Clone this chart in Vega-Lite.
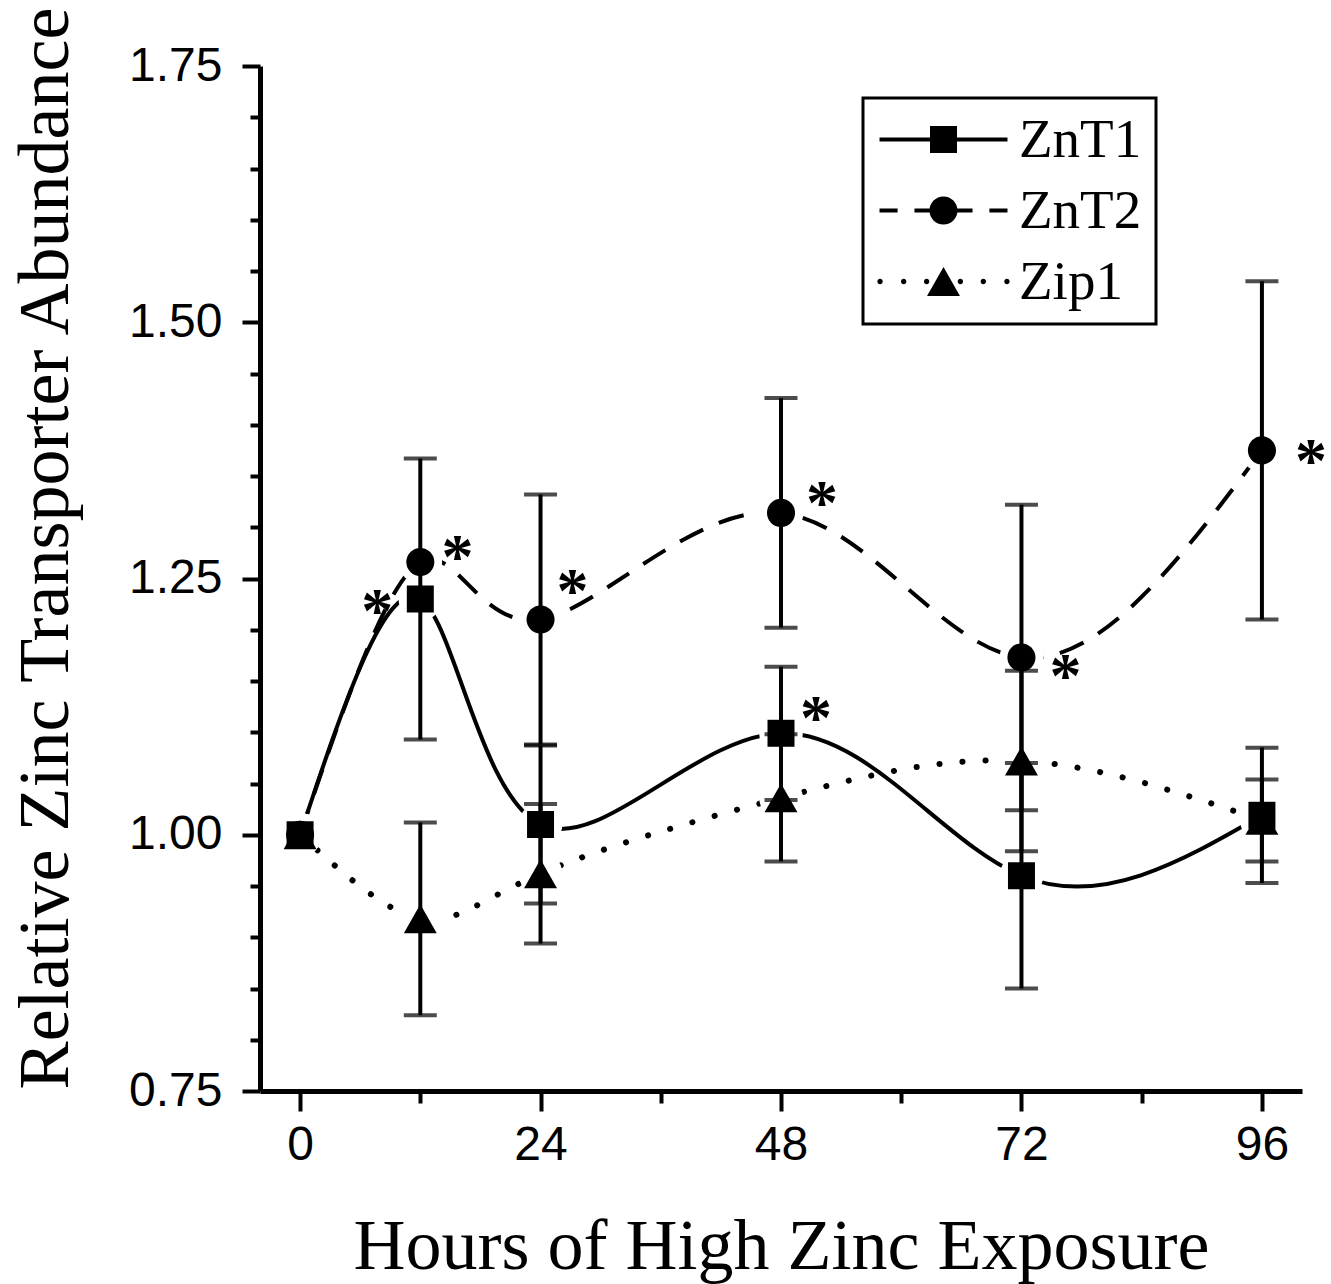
{
  "$schema": "https://vega.github.io/schema/vega-lite/v6.json",
  "width": 1042,
  "height": 1025,
  "autosize": "none",
  "padding": {"left": 260, "top": 66, "right": 29, "bottom": 193},
  "background": "white",
  "config": {
    "view": {"stroke": null},
    "legend": {"strokeColor": "black", "strokeWidth": 3, "padding": 14, "cornerRadius": 0}
  },
  "datasets": {
    "levels": [
      {"series": "ZnT1", "hour": 0, "value": 1.0, "err": 0},
      {"series": "ZnT1", "hour": 12, "value": 1.23, "err": 0.137},
      {"series": "ZnT1", "hour": 24, "value": 1.01, "err": 0.077},
      {"series": "ZnT1", "hour": 48, "value": 1.099, "err": 0.065},
      {"series": "ZnT1", "hour": 72, "value": 0.96, "err": 0.11},
      {"series": "ZnT1", "hour": 96, "value": 1.019, "err": 0.066},
      {"series": "ZnT2", "hour": 0, "value": 1.0, "err": 0},
      {"series": "ZnT2", "hour": 12, "value": 1.266, "err": 0},
      {"series": "ZnT2", "hour": 24, "value": 1.21, "err": 0.122},
      {"series": "ZnT2", "hour": 48, "value": 1.314, "err": 0.112},
      {"series": "ZnT2", "hour": 72, "value": 1.173, "err": 0.149},
      {"series": "ZnT2", "hour": 96, "value": 1.375, "err": 0.165},
      {"series": "Zip1", "hour": 0, "value": 1.0, "err": 0},
      {"series": "Zip1", "hour": 12, "value": 0.918, "err": 0.094},
      {"series": "Zip1", "hour": 24, "value": 0.962, "err": 0.068},
      {"series": "Zip1", "hour": 48, "value": 1.036, "err": 0.062},
      {"series": "Zip1", "hour": 72, "value": 1.072, "err": 0.088},
      {"series": "Zip1", "hour": 96, "value": 1.014, "err": 0.04}
    ],
    "stars": [
      {"series": "ZnT1", "hour": 7.7, "value": 1.227},
      {"series": "ZnT2", "hour": 15.7, "value": 1.28},
      {"series": "ZnT2", "hour": 27.2, "value": 1.247},
      {"series": "ZnT2", "hour": 52.1, "value": 1.332},
      {"series": "ZnT1", "hour": 51.5, "value": 1.123},
      {"series": "ZnT2", "hour": 76.4, "value": 1.164},
      {"series": "ZnT2", "hour": 100.9, "value": 1.373}
    ]
  },
  "data": {"name": "levels"},
  "encoding": {
    "x": {
      "field": "hour",
      "type": "quantitative",
      "scale": {"domain": [-4, 100], "nice": false, "zero": false},
      "axis": {
        "values": [0, 12, 24, 36, 48, 60, 72, 84, 96],
        "labelExpr": "datum.value % 24 === 0 ? datum.label : ''",
        "tickSize": {"condition": {"test": "datum.value % 24 === 0", "value": 20}, "value": 12},
        "tickWidth": 4,
        "tickColor": "black",
        "domainWidth": 5,
        "domainColor": "black",
        "grid": false,
        "labelFont": "Liberation Sans",
        "labelFontSize": 48,
        "labelColor": "black",
        "labelPadding": 10,
        "labelOverlap": false,
        "labelFlush": false,
        "title": "Hours of High Zinc Exposure",
        "titleFont": "Liberation Serif",
        "titleFontSize": 72,
        "titleFontWeight": "normal",
        "titleColor": "black",
        "titleY": 177,
        "titleBaseline": "alphabetic"
      }
    },
    "y": {
      "field": "value",
      "type": "quantitative",
      "scale": {"domain": [0.75, 1.75], "nice": false, "zero": false},
      "axis": {
        "values": [0.75, 0.8, 0.85, 0.9, 0.95, 1.0, 1.05, 1.1, 1.15, 1.2, 1.25, 1.3, 1.35, 1.4, 1.45, 1.5, 1.55, 1.6, 1.65, 1.7, 1.75],
        "labelExpr": "abs(datum.value * 4 - round(datum.value * 4)) < 0.001 ? format(datum.value, '.2f') : ''",
        "tickSize": {"condition": {"test": "abs(datum.value * 4 - round(datum.value * 4)) < 0.001", "value": 18}, "value": 10},
        "tickWidth": 4,
        "tickColor": "black",
        "domainWidth": 5,
        "domainColor": "black",
        "grid": false,
        "labelFont": "Liberation Sans",
        "labelFontSize": 48,
        "labelColor": "black",
        "labelPadding": 20,
        "labelOverlap": false,
        "labelFlush": false,
        "title": "Relative Zinc Transporter Abundance",
        "titleFont": "Liberation Serif",
        "titleFontSize": 72,
        "titleFontWeight": "normal",
        "titleColor": "black",
        "titleAngle": 270,
        "titleX": -193,
        "titleY": 482,
        "titleBaseline": "alphabetic"
      }
    }
  },
  "resolve": {"scale": {"shape": "independent"}},
  "layer": [
    {
      "transform": [{"filter": "datum.series === 'ZnT1'"}],
      "mark": {"type": "line", "interpolate": "natural", "strokeWidth": 4, "strokeCap": "round", "color": "black"}
    },
    {
      "transform": [{"filter": "datum.series === 'ZnT2'"}],
      "mark": {"type": "line", "interpolate": "natural", "strokeWidth": 4, "strokeDash": [26, 17], "color": "black"}
    },
    {
      "transform": [{"filter": "datum.series === 'Zip1'"}],
      "mark": {"type": "line", "interpolate": "natural", "strokeWidth": 6, "strokeCap": "round", "strokeDash": [0.1, 23], "color": "black"}
    },
    {
      "mark": {"type": "point", "shape": "circle", "filled": true, "color": "white", "opacity": 1, "size": 1900}
    },
    {
      "transform": [{"filter": "datum.err > 0"}],
      "mark": {
        "type": "errorbar",
        "color": "black",
        "ticks": {"size": 33, "thickness": 4, "color": "black"},
        "rule": {"strokeWidth": 4, "color": "black"}
      },
      "encoding": {
        "yError": {"field": "err"}
      }
    },
    {
      "mark": {"type": "point", "filled": true, "opacity": 1, "color": "black", "size": 729},
      "encoding": {
        "shape": {
          "field": "series",
          "type": "nominal",
          "scale": {
            "range": [
              "M0,-1.07L1.22,1.07L-1.22,1.07Z",
              "square",
              "M-1.04,0C-1.04,-0.574,-0.574,-1.04,0,-1.04C0.574,-1.04,1.04,-0.574,1.04,0C1.04,0.574,0.574,1.04,0,1.04C-0.574,1.04,-1.04,0.574,-1.04,0Z"
            ]
          },
          "legend": null
        }
      }
    },
    {
      "mark": {"type": "point", "filled": true, "fill": "black", "opacity": 0, "size": 729},
      "encoding": {
        "shape": {
          "field": "series",
          "type": "nominal",
          "scale": {
            "domain": ["ZnT1", "ZnT2", "Zip1"],
            "range": [
              "M-4.74,-0.15H4.74V0.15H-4.74ZM-1,-1H1V1H-1Z",
              "M-4.74,-0.15H-3.4V0.15H-4.74ZM-2.15,-0.15H2.15V0.15H-2.15ZM3.4,-0.15H4.74V0.15H3.4ZM-1.04,0C-1.04,-0.574,-0.574,-1.04,0,-1.04C0.574,-1.04,1.04,-0.574,1.04,0C1.04,0.574,0.574,1.04,0,1.04C-0.574,1.04,-1.04,0.574,-1.04,0Z",
              "M-4.9,0C-4.9,-0.11,-4.81,-0.2,-4.7,-0.2C-4.59,-0.2,-4.5,-0.11,-4.5,0C-4.5,0.11,-4.59,0.2,-4.7,0.2C-4.81,0.2,-4.9,0.11,-4.9,0ZM-3.15,0C-3.15,-0.11,-3.06,-0.2,-2.95,-0.2C-2.84,-0.2,-2.75,-0.11,-2.75,0C-2.75,0.11,-2.84,0.2,-2.95,0.2C-3.06,0.2,-3.15,0.11,-3.15,0ZM-1.45,0C-1.45,-0.11,-1.36,-0.2,-1.25,-0.2C-1.14,-0.2,-1.05,-0.11,-1.05,0C-1.05,0.11,-1.14,0.2,-1.25,0.2C-1.36,0.2,-1.45,0.11,-1.45,0ZM1.05,0C1.05,-0.11,1.14,-0.2,1.25,-0.2C1.36,-0.2,1.45,-0.11,1.45,0C1.45,0.11,1.36,0.2,1.25,0.2C1.14,0.2,1.05,0.11,1.05,0ZM2.75,0C2.75,-0.11,2.84,-0.2,2.95,-0.2C3.06,-0.2,3.15,-0.11,3.15,0C3.15,0.11,3.06,0.2,2.95,0.2C2.84,0.2,2.75,0.11,2.75,0ZM4.5,0C4.5,-0.11,4.59,-0.2,4.7,-0.2C4.81,-0.2,4.9,-0.11,4.9,0C4.9,0.11,4.81,0.2,4.7,0.2C4.59,0.2,4.5,0.11,4.5,0ZM0,-1.07L1.22,1.07L-1.22,1.07Z"
            ]
          },
          "legend": {
            "title": null,
            "orient": "none",
            "legendX": 603,
            "legendY": 32,
            "padding": 14,
            "rowPadding": 15,
            "labelFont": "Liberation Serif",
            "labelFontSize": 55,
            "labelColor": "black",
            "labelOffset": 48,
            "symbolOffset": 39,
            "symbolSize": 729,
            "symbolOpacity": 1,
            "symbolFillColor": "black",
            "strokeColor": "black"
          }
        }
      }
    },
    {
      "data": {"name": "stars"},
      "mark": {
        "type": "text",
        "text": "*",
        "font": "Liberation Serif",
        "fontWeight": "bold",
        "fontSize": 64,
        "baseline": "alphabetic",
        "align": "center",
        "dy": 30,
        "color": "black"
      }
    }
  ]
}
